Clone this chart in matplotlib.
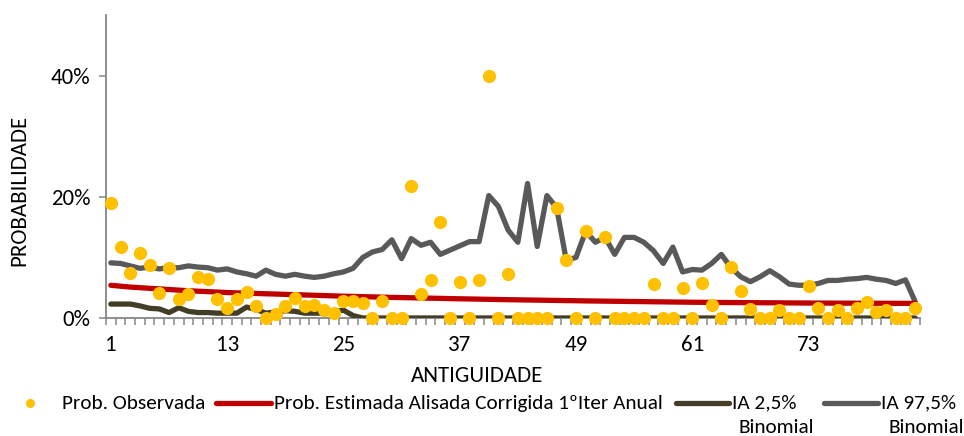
import matplotlib
matplotlib.use("Agg")
import matplotlib.pyplot as plt
from matplotlib.lines import Line2D
from matplotlib import font_manager

# ---------------- data ----------------
antiguidade = list(range(1, 85))

prob_observada = [19.0, 11.7, 7.4, 10.8, 8.7, 4.1, 8.3, 3.1, 3.9, 6.7,
                  6.4, 3.1, 1.7, 3.1, 4.3, 1.9, 0.0, 0.6, 1.9, 3.3,
                  1.9, 2.1, 1.3, 0.9, 2.8, 2.8, 2.5, 0.0, 2.8, 0.0,
                  0.0, 21.7, 4.0, 6.3, 15.8, 0.0, 6.0, 0.0, 6.3, 40.0,
                  0.0, 7.2, 0.0, 0.0, 0.0, 0.0, 18.1, 9.5, 0.0, 14.3,
                  0.0, 13.3, 0.0, 0.0, 0.0, 0.0, 5.6, 0.0, 0.0, 4.9,
                  0.0, 5.7, 2.2, 0.0, 8.4, 4.5, 1.5, 0.0, 0.0, 1.4,
                  0.0, 0.0, 5.3, 1.6, 0.0, 1.3, 0.0, 1.6, 2.6, 1.0,
                  1.3, 0.0, 0.0, 1.6]

prob_estimada = [5.4, 5.25, 5.1, 5.0, 4.9, 4.8, 4.7, 4.6, 4.5, 4.42,
                 4.35, 4.28, 4.2, 4.15, 4.1, 4.05, 4.0, 3.95, 3.9, 3.85,
                 3.8, 3.75, 3.7, 3.65, 3.6, 3.56, 3.52, 3.48, 3.44, 3.4,
                 3.37, 3.34, 3.3, 3.27, 3.24, 3.2, 3.17, 3.14, 3.11, 3.08,
                 3.05, 3.02, 3.0, 2.97, 2.95, 2.92, 2.9, 2.87, 2.85, 2.82,
                 2.8, 2.78, 2.76, 2.74, 2.72, 2.7, 2.68, 2.66, 2.64, 2.62,
                 2.6, 2.59, 2.57, 2.56, 2.55, 2.54, 2.53, 2.52, 2.51, 2.5,
                 2.49, 2.48, 2.47, 2.46, 2.46, 2.45, 2.45, 2.44, 2.44, 2.43,
                 2.43, 2.42, 2.42, 2.42]

ia_2_5 = [2.3, 2.3, 2.3, 2.0, 1.6, 1.5, 0.9, 1.7, 1.1, 0.9,
          0.9, 0.8, 0.8, 0.8, 1.8, 1.4, 0.8, 1.0, 1.2, 1.1,
          0.8, 0.8, 0.8, 1.0, 1.3, 0.4, 0.0, 0.0, 0.0, 0.0,
          0.0, 0.0, 0.0, 0.0, 0.0, 0.0, 0.0, 0.0, 0.0, 0.0,
          0.0, 0.0, 0.0, 0.0, 0.0, 0.0, 0.0, 0.0, 0.0, 0.0,
          0.0, 0.0, 0.0, 0.0, 0.0, 0.0, 0.0, 0.0, 0.0, 0.0,
          0.0, 0.0, 0.0, 0.0, 0.0, 0.0, 0.0, 0.0, 0.0, 0.0,
          0.0, 0.0, 0.0, 0.0, 0.0, 0.0, 0.0, 0.0, 0.0, 0.0,
          0.0, 0.0, 0.0, 0.0]

ia_97_5 = [9.1, 9.0, 8.6, 8.2, 8.4, 8.1, 8.3, 8.3, 8.6, 8.4,
           8.3, 7.9, 8.1, 7.6, 7.3, 6.9, 7.9, 7.2, 6.9, 7.2,
           6.9, 6.7, 6.9, 7.3, 7.6, 8.2, 10.0, 10.9, 11.3, 12.9,
           9.8, 13.1, 12.0, 12.5, 10.5, 11.2, 11.9, 12.6, 12.6, 20.2,
           18.4, 14.5, 12.5, 22.2, 11.8, 20.2, 18.2, 9.5, 10.0, 14.3,
           12.5, 13.3, 10.5, 13.3, 13.3, 12.5, 11.1, 9.0, 11.7, 7.6,
           8.0, 7.9, 9.0, 10.5, 8.3, 6.8, 6.0, 6.8, 7.8, 6.8,
           5.6, 5.4, 5.4, 5.7, 6.2, 6.2, 6.4, 6.5, 6.7, 6.4,
           6.2, 5.7, 6.3, 2.7]

xtick_values = [1, 13, 25, 37, 49, 61, 73]
ytick_values = [0, 20, 40]

labels = ["Prob. Observada",
          "Prob. Estimada Alisada Corrigida 1ºIter Anual",
          "IA 2,5%", "IA 97,5%", "Binomial"]

# ---------------- style ----------------
avail = {f.name for f in font_manager.fontManager.ttflist}
font = "Carlito" if "Carlito" in avail else ("Lato" if "Lato" in avail else "DejaVu Sans")
plt.rcParams['font.family'] = [font, 'DejaVu Sans']

C_OBS = "#FFC000"
C_EST = "#C00000"
C_LOW = "#433D28"
C_UP = "#595959"
C_AX = "#868686"
C_TXT = "#000000"

FS_TICK = 16.5
FS_TITLE = 16.5
FS_LEG = 15.3

W, H = 964, 436
fig = plt.figure(figsize=(W / 100, H / 100), dpi=100)
ax = fig.add_axes([106 / W, 1 - 318 / H, (920 - 106) / W, (318 - 15) / H])

ax.plot(antiguidade, ia_2_5, color=C_LOW, lw=3.8, solid_joinstyle='round',
        solid_capstyle='round', zorder=3)
ax.plot(antiguidade, ia_97_5, color=C_UP, lw=3.8, solid_joinstyle='round',
        solid_capstyle='round', zorder=3)
ax.plot(antiguidade, prob_estimada, color=C_EST, lw=3.8, solid_capstyle='round',
        zorder=4)
ax.plot(antiguidade, prob_observada, linestyle='none', marker='o', ms=9.5,
        mfc=C_OBS, mec=C_OBS, mew=0, zorder=5, clip_on=False)

ax.set_xlim(0.5, 84.5)
ax.set_ylim(0, 50)

for s in ['top', 'right']:
    ax.spines[s].set_visible(False)
for s in ['left', 'bottom']:
    ax.spines[s].set_color(C_AX)
    ax.spines[s].set_linewidth(1.3)

ax.set_xticks(xtick_values)
ax.set_xticklabels([str(v) for v in xtick_values])
ax.set_xticks([i + 0.5 for i in range(0, 85)], minor=True)
ax.tick_params(axis='x', which='major', length=0, pad=12, labelsize=FS_TICK,
               labelcolor=C_TXT)
ax.tick_params(axis='x', which='minor', length=5, width=1.1, color=C_AX,
               direction='out')
ax.set_yticks(ytick_values)
ax.set_yticklabels([f"{v}%" for v in ytick_values])
ax.tick_params(axis='y', which='major', length=5, width=1.1, color=C_AX,
               direction='out', labelsize=FS_TICK, labelcolor=C_TXT, pad=6)

fig.text(477 / W, 1 - 376 / H, "ANTIGUIDADE", ha='center', va='center',
         fontsize=FS_TITLE, color=C_TXT)
fig.text(19 / W, 1 - 190 / H, "PROBABILIDADE", ha='center', va='center',
         rotation=90, fontsize=FS_TITLE, color=C_TXT)

# ---------------- legend (manual) ----------------
ly = 1 - 403 / H
ly2 = 1 - 427 / H
fig.add_artist(Line2D([30 / W], [ly], marker='o', ms=6.5, mfc=C_OBS, mec=C_OBS,
                      mew=0, linestyle='none', transform=fig.transFigure))
fig.text(62 / W, ly, labels[0], ha='left', va='center', fontsize=FS_LEG)
fig.add_artist(Line2D([216 / W, 271 / W], [ly, ly], color=C_EST, lw=3.8,
                      solid_capstyle='round', transform=fig.transFigure))
fig.text(274 / W, ly, labels[1], ha='left', va='center', fontsize=FS_LEG)
fig.add_artist(Line2D([676 / W, 729 / W], [ly, ly], color=C_LOW, lw=3.8,
                      solid_capstyle='round', transform=fig.transFigure))
fig.text(732 / W, ly, labels[2], ha='left', va='center', fontsize=FS_LEG)
fig.text(738 / W, ly2, labels[4], ha='left', va='center', fontsize=FS_LEG)
fig.add_artist(Line2D([824 / W, 878 / W], [ly, ly], color=C_UP, lw=3.8,
                      solid_capstyle='round', transform=fig.transFigure))
fig.text(881 / W, ly, labels[3], ha='left', va='center', fontsize=FS_LEG)
fig.text(889 / W, ly2, labels[4], ha='left', va='center', fontsize=FS_LEG)

fig.savefig("out.png", dpi=100)
